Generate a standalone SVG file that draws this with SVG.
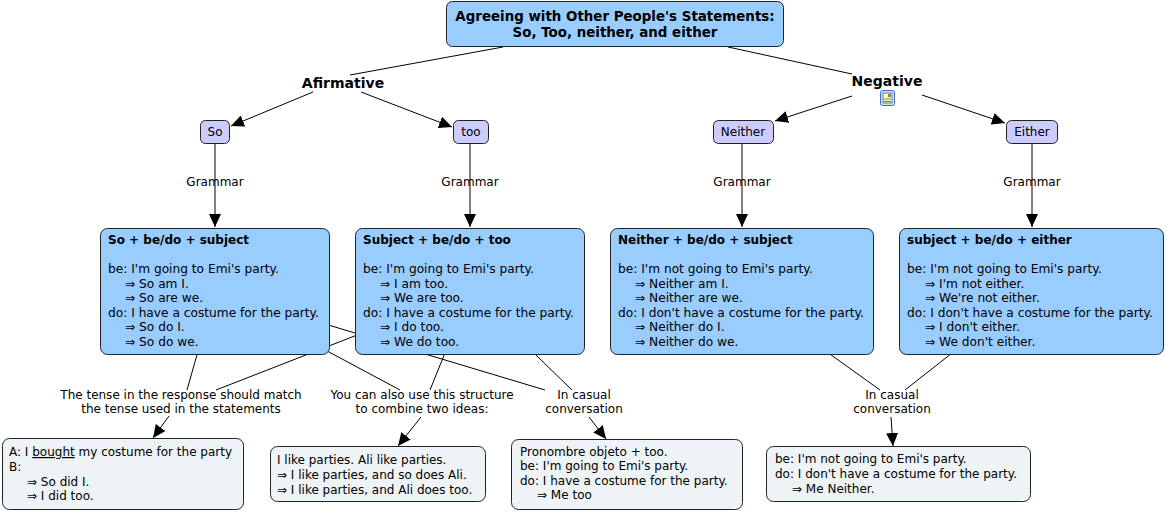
<svg xmlns="http://www.w3.org/2000/svg" width="1166" height="513" viewBox="0 0 1166 513">
<style>
text{font-family:"DejaVu Sans","Verdana",sans-serif;font-size:12px;fill:#000}
.b{font-weight:bold}
.t{font-weight:bold;font-size:13.4px}
.h{font-weight:bold;font-size:14px}
.c{text-anchor:middle}
.bx{font-size:12.2px}
.main{fill:#99ccff;stroke:#222;stroke-width:1}
.sm{fill:#ccccff;stroke:#222;stroke-width:1}
.lt{fill:#eef4f6;stroke:#222;stroke-width:1}
.ln{stroke:#000;stroke-width:1;fill:none}
.ar{stroke:#000;stroke-width:1;fill:none;marker-end:url(#arr)}
</style>
<defs>
<marker id="arr" markerUnits="userSpaceOnUse" markerWidth="14" markerHeight="12" refX="13" refY="6" orient="auto">
<path d="M0,0 L13,6 L0,12 Z" fill="#000"/>
</marker>
</defs>
<rect width="1166" height="513" fill="#fff"/>
<g id="connectors">
<line class="ln" x1="503" y1="47" x2="350" y2="75"/>
<line class="ln" x1="728" y1="47" x2="852" y2="74"/>
<line class="ar" x1="313" y1="92" x2="231" y2="126"/>
<line class="ar" x1="361" y1="92" x2="452" y2="127"/>
<line class="ar" x1="852" y1="96" x2="775" y2="121"/>
<line class="ar" x1="922" y1="95" x2="1005" y2="123"/>
<line class="ar" x1="215" y1="144" x2="215" y2="227"/>
<line class="ar" x1="470" y1="144" x2="470" y2="227"/>
<line class="ar" x1="742" y1="144" x2="742" y2="227"/>
<line class="ar" x1="1032" y1="144" x2="1032" y2="227"/>
<line class="ln" x1="215" y1="291" x2="187" y2="390"/>
<line class="ln" x1="470" y1="291" x2="216" y2="390"/>
<line class="ln" x1="215" y1="291" x2="400" y2="390"/>
<line class="ln" x1="470" y1="291" x2="430" y2="390"/>
<line class="ln" x1="215" y1="291" x2="545" y2="390"/>
<line class="ln" x1="470" y1="291" x2="572" y2="390"/>
<line class="ln" x1="742" y1="291" x2="880" y2="390"/>
<line class="ln" x1="1031" y1="291" x2="905" y2="390"/>
<line class="ar" x1="169" y1="416" x2="153" y2="438"/>
<line class="ar" x1="421" y1="417" x2="398" y2="446"/>
<line class="ar" x1="589" y1="417" x2="606" y2="439"/>
<line class="ar" x1="891" y1="417" x2="893" y2="446"/>
</g>
<g id="title">
<rect class="main" x="446.5" y="1.5" width="337" height="45" rx="6"/>
<text class="t c" x="615" y="20.5">Agreeing with Other People's Statements:</text>
<text class="t c" x="615" y="36.5">So, Too, neither, and either</text>
</g>
<g id="afirmative"><text class="h c" x="343" y="88">Afirmative</text></g>
<g id="negative">
<text class="h c" x="887" y="86">Negative</text>
<rect x="880.5" y="90.5" width="14" height="15" rx="2" fill="#cfe0ff" stroke="#3a6fc4"/>
<rect x="883" y="93" width="9" height="10" fill="#ffffb0" stroke="#333" stroke-width="0.6"/>
<rect x="888" y="94" width="3" height="3" fill="#6a9a5a"/>
<line x1="884" y1="99" x2="891" y2="99" stroke="#555" stroke-width="0.8"/>
<line x1="884" y1="101.5" x2="891" y2="101.5" stroke="#555" stroke-width="0.8"/>
</g>
<g id="so"><rect class="sm" x="200.5" y="120.5" width="29" height="23" rx="5"/><text class="c" x="215" y="136">So</text></g>
<g id="too"><rect class="sm" x="453.5" y="120.5" width="35" height="23" rx="5"/><text class="c" x="471" y="136">too</text></g>
<g id="neither"><rect class="sm" x="713.5" y="120.5" width="60" height="23" rx="5"/><text class="c" x="743" y="136">Neither</text></g>
<g id="either"><rect class="sm" x="1006.5" y="120.5" width="51" height="23" rx="5"/><text class="c" x="1032" y="136">Either</text></g>
<g id="grammar-labels">
<text class="c" x="215" y="186">Grammar</text>
<text class="c" x="470" y="186">Grammar</text>
<text class="c" x="742" y="186">Grammar</text>
<text class="c" x="1032" y="186">Grammar</text>
</g>
<g id="box-so">
<rect class="main" x="100.5" y="228.5" width="229" height="126" rx="7"/>
<text class="b" x="108" y="244">So + be/do + subject</text>
<text class="bx" x="108" y="273">be: I'm going to Emi's party.</text>
<text class="bx" x="125" y="288">⇒ So am I.</text>
<text class="bx" x="125" y="302">⇒ So are we.</text>
<text class="bx" x="108" y="317">do: I have a costume for the party.</text>
<text class="bx" x="125" y="331">⇒ So do I.</text>
<text class="bx" x="125" y="346">⇒ So do we.</text>
</g>
<g id="box-too">
<rect class="main" x="355.5" y="228.5" width="229" height="126" rx="7"/>
<text class="b" x="363" y="244">Subject + be/do + too</text>
<text class="bx" x="363" y="273">be: I'm going to Emi's party.</text>
<text class="bx" x="380" y="288">⇒ I am too.</text>
<text class="bx" x="380" y="302">⇒ We are too.</text>
<text class="bx" x="363" y="317">do: I have a costume for the party.</text>
<text class="bx" x="380" y="331">⇒ I do too.</text>
<text class="bx" x="380" y="346">⇒ We do too.</text>
</g>
<g id="box-neither">
<rect class="main" x="610.5" y="228.5" width="263" height="126" rx="7"/>
<text class="b" x="618" y="244">Neither + be/do + subject</text>
<text class="bx" x="618" y="273">be: I'm not going to Emi's party.</text>
<text class="bx" x="635" y="288">⇒ Neither am I.</text>
<text class="bx" x="635" y="302">⇒ Neither are we.</text>
<text class="bx" x="618" y="317">do: I don't have a costume for the party.</text>
<text class="bx" x="635" y="331">⇒ Neither do I.</text>
<text class="bx" x="635" y="346">⇒ Neither do we.</text>
</g>
<g id="box-either">
<rect class="main" x="899.5" y="228.5" width="264" height="126" rx="7"/>
<text class="b" x="907" y="244">subject + be/do + either</text>
<text class="bx" x="907" y="273">be: I'm not going to Emi's party.</text>
<text class="bx" x="925" y="288">⇒ I'm not either.</text>
<text class="bx" x="925" y="302">⇒ We're not either.</text>
<text class="bx" x="907" y="317">do: I don't have a costume for the party.</text>
<text class="bx" x="925" y="331">⇒ I don't either.</text>
<text class="bx" x="925" y="346">⇒ We don't either.</text>
</g>
<g id="label-tense">
<text class="c" x="181" y="399">The tense in the response should match</text>
<text class="c" x="181" y="413">the tense used in the statements</text>
</g>
<g id="label-combine">
<text class="c" x="422" y="399">You can also use this structure</text>
<text class="c" x="422" y="413">to combine two ideas:</text>
</g>
<g id="label-casual-1">
<text class="c" x="584" y="399">In casual</text>
<text class="c" x="584" y="413">conversation</text>
</g>
<g id="label-casual-2">
<text class="c" x="892" y="399">In casual</text>
<text class="c" x="892" y="413">conversation</text>
</g>
<g id="box-tense">
<rect class="lt" x="2.5" y="438.5" width="241" height="71" rx="7"/>
<text x="9" y="456">A: I <tspan text-decoration="underline">bought</tspan> my costume for the party</text>
<text x="9" y="471">B:</text>
<text x="27" y="486">⇒ So did I.</text>
<text x="27" y="500">⇒ I did too.</text>
</g>
<g id="box-combine">
<rect class="lt" x="270.5" y="446.5" width="215" height="55" rx="7"/>
<text x="277" y="464">I like parties. Ali like parties.</text>
<text x="277" y="479">⇒ I like parties, and so does Ali.</text>
<text x="277" y="494">⇒ I like parties, and Ali does too.</text>
</g>
<g id="box-casual-1">
<rect class="lt" x="511.5" y="439.5" width="231" height="70" rx="7"/>
<text x="520" y="456">Pronombre objeto + too.</text>
<text x="520" y="470">be: I'm going to Emi's party.</text>
<text x="520" y="485">do: I have a costume for the party.</text>
<text x="537" y="499">⇒ Me too</text>
</g>
<g id="box-casual-2">
<rect class="lt" x="766.5" y="446.5" width="264" height="55" rx="7"/>
<text x="775" y="463">be: I'm not going to Emi's party.</text>
<text x="775" y="478">do: I don't have a costume for the party.</text>
<text x="792" y="493">⇒ Me Neither.</text>
</g>
</svg>
